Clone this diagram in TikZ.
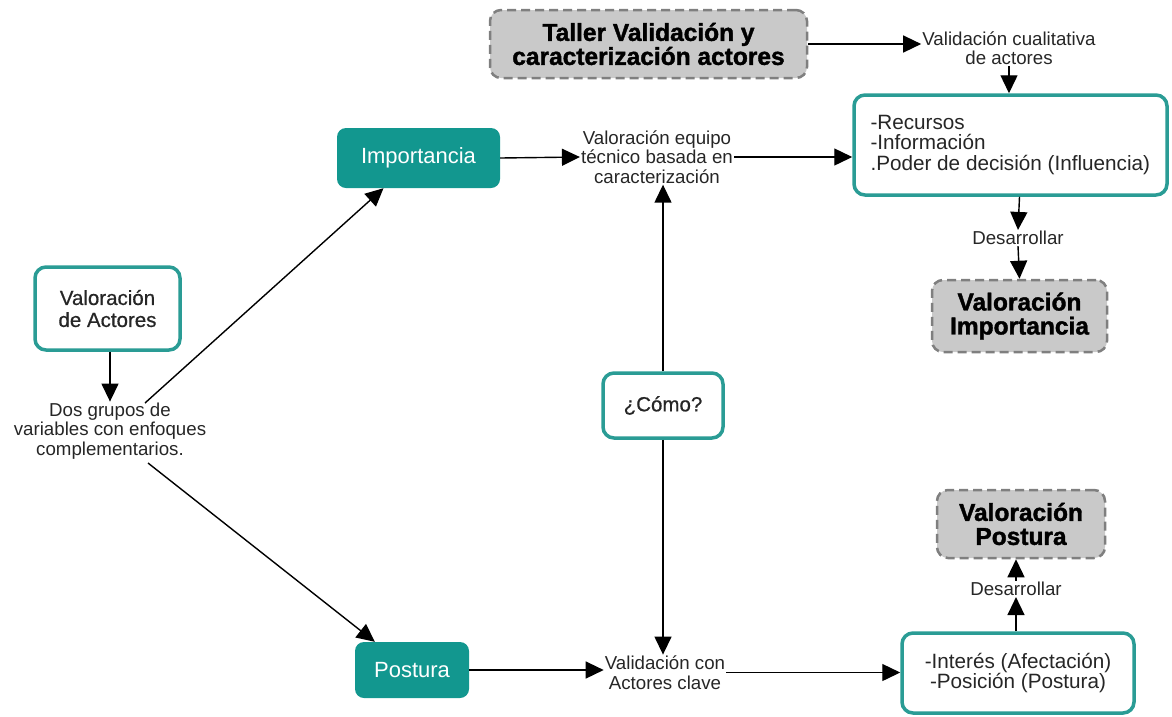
\documentclass[tikz,border=0pt]{standalone}
\usepackage{fontspec}
\setmainfont{Liberation Sans}[BoldFeatures={FakeBold=1.6}]
\newfontfamily\medfont{Liberation Sans}[FakeBold=0.6]
\usetikzlibrary{arrows.meta,calc}
\definecolor{tealc}{HTML}{12978F}
\definecolor{tealb}{HTML}{2A9C95}
\definecolor{grayf}{HTML}{C9C9C9}
\definecolor{grayd}{HTML}{7F7F7F}
\definecolor{txt}{HTML}{262626}
\begin{document}
\begin{tikzpicture}[x=1pt,y=-1pt,
 lbl/.style={align=center, inner sep=1pt, text=txt, font=\fontsize{18.7}{19.5}\selectfont},
 fillbox/.style={fill=tealc, rounded corners=9pt, text=white, inner sep=0pt, font=\fontsize{22}{24}\selectfont},
 linebox/.style={draw=tealb, line width=3.5pt, fill=white, rounded corners=11pt, inner sep=0pt, text=txt, align=center, font=\fontsize{20.7}{20.5}\selectfont},
 dashbox/.style={draw=grayd, fill=grayf, line width=2.5pt, dash pattern=on 9pt off 5pt, rounded corners=11pt, inner sep=0pt, align=center, text=black, font=\bfseries\fontsize{24.5}{24}\selectfont},
 arr/.style={line width=1.4pt, -{Triangle[length=18pt,width=17pt]}},
]
\useasboundingbox (0,0) rectangle (1172,716);

% boxes
\node[dashbox, minimum width=317pt, minimum height=68pt] (taller) at (648.5,44) {Taller Validación y\\caracterización actores};
\node[lbl] (cual) at (1009,48) {Validación cualitativa\\de actores};
\node[linebox, minimum width=313pt, minimum height=100pt] (rec) at (1010.5,145)
  {\parbox{280pt}{\raggedright -Recursos\\-Información\\.Poder de decisión (Influencia)}};
\node[lbl] (des1) at (1018,238) {Desarrollar};
\node[dashbox, minimum width=175pt, minimum height=72pt] (vimp) at (1019.5,316) {Valoración\\Importancia};

\node[fillbox, minimum width=163pt, minimum height=60pt] (imp) at (418.5,158) {Importancia};
\node[lbl] (equipo) at (657,157) {Valoración equipo\\técnico basada en\\caracterización};

\node[linebox, minimum width=145pt, minimum height=83pt, font=\medfont\fontsize{20.5}{22}\selectfont] (act) at (107.5,308.5) {Valoración\\de Actores};
\node[lbl] (dos) at (110,431) {Dos grupos de\\variables con enfoques\\complementarios.};

\node[linebox, minimum width=120pt, minimum height=65pt, font=\medfont\fontsize{20.5}{22}\selectfont] (como) at (663,405.5) {¿Cómo?};

\node[fillbox, minimum width=114pt, minimum height=56pt] (pos) at (412,670) {Postura};
\node[lbl] (valcon) at (665,672.5) {Validación con\\Actores clave};

\node[linebox, minimum width=232pt, minimum height=80pt] (int) at (1018,673) {-Interés (Afectación)\\-Posición (Postura)};
\node[lbl] (des2) at (1016,589) {Desarrollar};
\node[dashbox, minimum width=168pt, minimum height=68pt] (vpos) at (1021,524) {Valoración\\Postura};

% free ends
\coordinate (d1) at (145,403);
\coordinate (d2) at (148,463);

% connectors
\draw[arr] (taller.east) -- (taller.east -| cual.west);
\draw[arr] (cual.south) -- (cual.south |- rec.north);
\draw[arr] (imp.east) -- (equipo.west);
\draw[arr] (equipo.east) -- (equipo.east -| rec.west);
\draw[arr] (vimp.north |- rec.south) -- (des1.north);
\draw[arr] (des1.south) -- (vimp.north);
\draw[arr] (act.south -| dos.north) -- (dos.north);
\draw[arr] (d1) -- ($(imp.south)+(-35,0)$);
\draw[arr] (d2) -- ($(pos.north west)+(20,0)$);
\draw[arr] (como.north) -- (como.north |- equipo.south);
\draw[arr] (como.south) -- (como.south |- valcon.north);
\draw[arr] (pos.east) -- (pos.east -| valcon.west);
\draw[arr] (valcon.east) -- (valcon.east -| int.west);
\draw[arr] (int.north -| des2.south) -- (des2.south);
\draw[arr] (des2.north) -- (des2.north |- vpos.south);
\end{tikzpicture}
\end{document}
